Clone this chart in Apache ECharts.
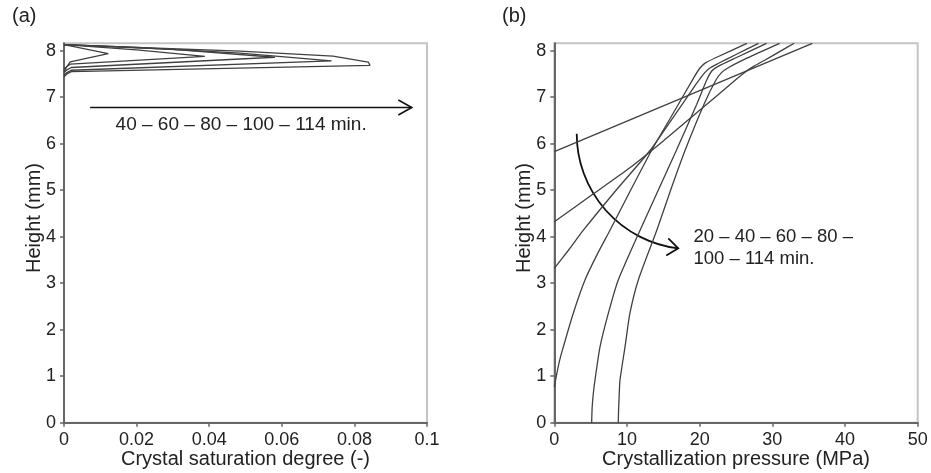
<!DOCTYPE html>
<html><head><meta charset="utf-8">
<script src="https://cdn.jsdelivr.net/npm/echarts@6/dist/echarts.min.js"></script>
<style>html,body{margin:0;padding:0;background:#fff}#c{width:931px;height:473px}</style>
</head><body><div id="c"></div>
<script>
// ---- tick values ----
const satTicks = [0, 0.02, 0.04, 0.06, 0.08, 0.1];
const presTicks = [0, 10, 20, 30, 40, 50];
const heightTicks = [0, 1, 2, 3, 4, 5, 6, 7, 8];

// ---- (a) crystal saturation degree [saturation, height] ----
const satNames = ['40 min', '60 min', '80 min', '100 min', '114 min'];
const sat40  = [[0,7.55],[0.0008,7.66],[0.0017,7.76],[0.0122,7.94],[0,8.13]];
const sat60  = [[0,7.6],[0.0008,7.66],[0.0017,7.71],[0.0388,7.88],[0.02,8.02],[0,8.13]];
const sat80  = [[0,7.53],[0.0008,7.59],[0.002,7.64],[0.0581,7.86],[0.03,8.03],[0,8.13]];
const sat100 = [[0,7.48],[0.0008,7.53],[0.002,7.58],[0.0737,7.78],[0.0485,7.95],[0.02,8.07],[0,8.13]];
const sat114 = [[0,7.44],[0.0008,7.5],[0.002,7.55],[0.0843,7.686],[0.0838,7.757],[0.0741,7.886],[0.0485,7.99],[0.02,8.07],[0,8.13]];

// ---- (b) crystallization pressure [MPa, height] ----
const presNames = ['20 min', '40 min', '60 min', '80 min', '100 min', '114 min'];
const pres20  = [[0,5.83],[35.5,8.16]];
const pres40  = [[0,4.32],[5,4.88],[10.2,5.46],[15,6.06],[20,6.72],[25,7.38],[26.6,7.58],[27.6,7.68],[29,7.8],[31,7.98],[33,8.16]];
const pres60  = [[0,3.32],[2,3.72],[4,4.14],[8.5,5.0],[13.2,5.86],[16.5,6.6],[19.5,7.28],[20.7,7.53],[21.5,7.64],[22.6,7.73],[25,7.92],[28.1,8.16]];
const pres80  = [[0,0.77],[0.3,1.02],[0.7,1.32],[1.24,1.63],[2.6,2.35],[4.22,3.07],[5.9,3.62],[7.66,4.14],[10.5,5.0],[13.4,5.86],[16.6,6.72],[19.3,7.45],[20.1,7.64],[20.8,7.74],[22.5,7.87],[26.5,8.16]];
const pres100 = [[5.14,0],[5.2,0.3],[5.35,0.6],[5.6,0.92],[6.29,1.63],[7.43,2.35],[8.8,3.07],[11.8,4.14],[14.3,5.0],[16.8,5.86],[19.6,6.85],[21.0,7.38],[21.7,7.57],[22.6,7.67],[25,7.85],[29.2,8.16]];
const pres114 = [[8.8,0],[8.85,0.3],[8.93,0.6],[9.04,0.92],[9.73,1.63],[10.4,2.35],[11.56,3.07],[14.1,4.14],[16.0,5.0],[18.0,5.86],[20.6,6.85],[22.2,7.36],[23.0,7.53],[24.0,7.64],[26.5,7.84],[31.0,8.16]];

const satSeries = [sat40, sat60, sat80, sat100, sat114];
const presSeries = [pres20, pres40, pres60, pres80, pres100, pres114];

// annotation anchors in data coordinates
const arrowA = { from: [0.0072, 6.78], to: [0.0958, 6.78] };
const textA = { text: '40 – 60 – 80 – 100 – 114 min.', at: [0.0488, 6.40] };
const arcB = { center: [18.99, 6.217] };
const textB = { text: '20 – 40 – 60 – 80 –\n100 – 114 min.', at: [19.15, 3.76] };

const FONT = 'Liberation Sans, Arial, Helvetica, sans-serif';
const TXT = '#222';
const LINE = '#404040';

function valueAxis(gridIndex, min, max, ticks, name, isY) {
  return {
    type: 'value', gridIndex, min, max,
    name, nameLocation: 'middle',
    nameGap: isY ? 20 : 27,
    nameMoveOverlap: false,
    nameTextStyle: { fontFamily: FONT, fontSize: 20, color: TXT, padding: isY ? [0, 0, 0, 30] : 0 },
    axisLine: { show: true, onZero: false, lineStyle: { color: '#666', width: 2 } },
    axisTick: { show: true, inside: false, length: 4, customValues: ticks, lineStyle: { color: '#666', width: 1.5 } },
    axisLabel: { show: true, margin: 8, customValues: ticks, fontFamily: FONT, fontSize: 18, color: TXT,
      formatter: v => (ticks.some(t => Math.abs(t - v) < 1e-9) ? String(+v.toFixed(4)) : '') },
    splitLine: { show: false }
  };
}

const chart = echarts.init(document.getElementById('c'), null, { renderer: 'canvas' });
const series = [];
satSeries.forEach((d, i) => series.push({
  name: satNames[i], type: 'line', xAxisIndex: 0, yAxisIndex: 0, data: d,
  symbol: 'none', smooth: false, lineStyle: { color: LINE, width: 1.3 }, animation: false
}));
presSeries.forEach((d, i) => series.push({
  name: presNames[i], type: 'line', xAxisIndex: 1, yAxisIndex: 1, data: d,
  symbol: 'none', smooth: 0.2, lineStyle: { color: LINE, width: 1.3 }, animation: false
}));

chart.setOption({
  animation: false,
  backgroundColor: '#fff',
  grid: [
    { left: 64, top: 43.3, width: 363, height: 379.4, show: true, borderColor: '#c4c4c4', borderWidth: 2, outerBoundsMode: 'none', containLabel: false },
    { left: 554.3, top: 43.3, width: 363.4, height: 379.4, show: true, borderColor: '#c4c4c4', borderWidth: 2, outerBoundsMode: 'none', containLabel: false }
  ],
  xAxis: [
    valueAxis(0, 0, 0.1, satTicks, 'Crystal saturation degree (-)', false),
    valueAxis(1, 0, 50, presTicks, 'Crystallization pressure (MPa)', false)
  ],
  yAxis: [
    valueAxis(0, 0, 8.16, heightTicks, 'Height (mm)', true),
    valueAxis(1, 0, 8.16, heightTicks, 'Height (mm)', true)
  ],
  series
});

// ---- annotations placed through the axes' own scales ----
const px = (g, xy) => chart.convertToPixel({ gridIndex: g }, xy);
const a0 = px(0, arrowA.from), a1 = px(0, arrowA.to);
const ta = px(0, textA.at);
const c = px(1, arcB.center);
const R = 115.6;
const th0 = 97 * Math.PI / 180, th1 = 180 * Math.PI / 180;
const tip = [c[0] + R * Math.cos(th0), c[1] + R * Math.sin(th0)];
const dir = [Math.sin(th0), -Math.cos(th0)];
function arm(d, ang, len) {
  const bx = -d[0], by = -d[1];
  const ca = Math.cos(ang), sa = Math.sin(ang);
  return [tip[0] + len * (bx * ca - by * sa), tip[1] + len * (bx * sa + by * ca)];
}
const armA = arm(dir, 38 * Math.PI / 180, 14), armB = arm(dir, -38 * Math.PI / 180, 14);
const tb = px(1, textB.at);
const ARW = '#111';

chart.setOption({
  graphic: [
    { type: 'line', silent: true, shape: { x1: a0[0], y1: a0[1], x2: a1[0], y2: a1[1] }, style: { stroke: ARW, lineWidth: 1.6 } },
    { type: 'polyline', silent: true, shape: { points: [[a1[0] - 13.4, a1[1] - 7.5], [a1[0], a1[1]], [a1[0] - 13.4, a1[1] + 7.5]] }, style: { stroke: ARW, lineWidth: 1.6, fill: null } },
    { type: 'text', silent: true, style: { text: textA.text, x: ta[0], y: ta[1], align: 'center', verticalAlign: 'middle', textAlign: 'center', textVerticalAlign: 'middle', font: '19px ' + FONT, fill: TXT } },
    { type: 'arc', silent: true, shape: { cx: c[0], cy: c[1], r: R, startAngle: th0, endAngle: th1, clockwise: true }, style: { stroke: ARW, lineWidth: 1.8, fill: null } },
    { type: 'polyline', silent: true, shape: { points: [armA, tip, armB] }, style: { stroke: ARW, lineWidth: 1.8, fill: null } },
    { type: 'text', silent: true, style: { text: textB.text, x: tb[0], y: tb[1], align: 'left', verticalAlign: 'middle', textAlign: 'left', textVerticalAlign: 'middle', font: '18.5px ' + FONT, lineHeight: 21.5, fill: TXT } },
    { type: 'text', silent: true, style: { text: '(a)', x: 12, y: 6, align: 'left', verticalAlign: 'top', font: '20px ' + FONT, fill: TXT } },
    { type: 'text', silent: true, style: { text: '(b)', x: 502, y: 6, align: 'left', verticalAlign: 'top', font: '20px ' + FONT, fill: TXT } }
  ]
});
</script></body></html>
